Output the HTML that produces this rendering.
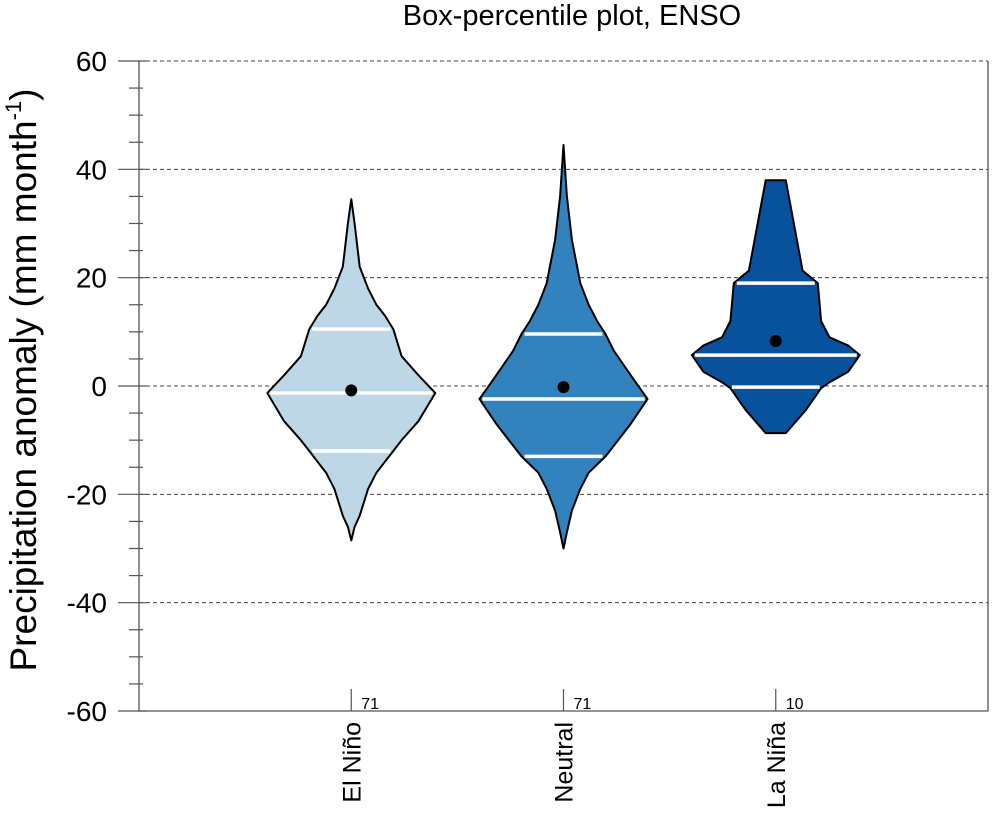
<!DOCTYPE html>
<html><head><meta charset="utf-8"><style>
body{margin:0;background:#fff;}
svg text{font-family:"Liberation Sans",sans-serif;fill:#000;}
</style></head><body>
<svg id="chart" width="995" height="823" xmlns="http://www.w3.org/2000/svg">
<text x="572" y="25" font-size="29" text-anchor="middle">Box-percentile plot, ENSO</text>
<g id="axes"></g>
<g id="marks"></g>
</svg>
<script>
const categories = ["El Niño", "Neutral", "La Niña"];
const counts = ["71", "71", "10"];
const colors = ["#bdd7e7", "#3182bd", "#08519c"];
const yTicks = [-60, -40, -20, 0, 20, 40, 60];
const pct0 = [0,0.02,0.05,0.1,0.15,0.2,0.25,0.3,0.4,0.5,0.6,0.7,0.75,0.8,0.85,0.9,0.95,0.98,1];
const vals0 = [-28.5,-26,-24,-19,-16,-14,-12,-10,-6.5,-1.3,2,5.5,10.5,13,15,18,22,30,34.5];
const pct1 = [0,0.02,0.05,0.1,0.15,0.2,0.25,0.3,0.4,0.5,0.6,0.7,0.75,0.8,0.85,0.9,0.95,0.98,1];
const vals1 = [-30,-27,-23,-19,-16,-14.5,-13,-11,-7,-2.4,2,6.5,9.6,12,15,19,27,35,44.5];
const pct2 = [0.06,0.06,0.18,0.27,0.32,0.43,0.5,0.57,0.68,0.73,0.75,0.84,0.94,0.94];
const vals2 = [-8.7,-8.7,-4.4,-0.4,0.7,2.6,5.7,7.5,9,12,19,21.3,38,38];
const quartiles = [[-12,-1.3,10.5],[-13,-2.4,9.6],[-0.2,5.7,19]];
const means = [-0.8,-0.2,8.3];

const NS="http://www.w3.org/2000/svg";
const L=139,R=988,T=61,B=711;
const y=v=>T+(60-v)*(B-T)/120;
const x=i=>L+(i+1)*(R-L)/4;
const MAXH=84;
const hw=p=>MAXH*2*Math.min(p,1-p);
function mk(tag,attrs,parent){const e=document.createElementNS(NS,tag);for(const k in attrs)e.setAttribute(k,attrs[k]);parent.appendChild(e);return e;}
const ax=document.getElementById('axes'), mg=document.getElementById('marks');
yTicks.forEach(t=>{
  if(t===-60) return;
  const g=mk('line',{x1:L,x2:R,y1:y(t),y2:y(t),stroke:'#444','stroke-width':1,'stroke-dasharray':'4,3'},ax);
  
  
});
const frame=mk('path',{d:`M${L},${T} L${L},${B} L${R},${B} L${R},${T}`,fill:'none',stroke:'#555','stroke-width':1.3},ax);


for(let v=-60;v<=60;v+=5){
  const major=v%20===0;
  const tk=mk('line',{x1:major?118:129,x2:major?147:143,y1:y(v),y2:y(v),stroke:'#555','stroke-width':1.2},ax);
  
  
}
yTicks.forEach(t=>{
  const tx=mk('text',{x:107,y:y(t)+10,'font-size':28,'text-anchor':'end'},ax);
  tx.textContent=t;
  
  
});
const yt=mk('text',{transform:'translate(36,380) rotate(-90)','font-size':37,'text-anchor':'middle'},ax);
yt.innerHTML='Precipitation anomaly (mm month<tspan font-size="22" dy="-15">-1</tspan><tspan dy="15">)</tspan>';


const P=[pct0,pct1,pct2], V=[vals0,vals1,vals2];
function widthAt(i,v){const p=P[i],vs=V[i];for(let k=0;k<vs.length-1;k++){if(v>=vs[k]&&v<=vs[k+1]){const f=vs[k+1]===vs[k]?0:(v-vs[k])/(vs[k+1]-vs[k]);return hw(p[k]+f*(p[k+1]-p[k]));}}return 0;}
categories.forEach((c,i)=>{
  const cx=x(i);
  const p=P[i],vs=V[i];
  let right=p.map((pp,k)=>[cx+hw(pp),y(vs[k])]);
  let left=right.slice().reverse().map(([px,py])=>[2*cx-px,py]);
  const pts=right.concat(left).map(a=>a[0].toFixed(1)+','+a[1].toFixed(1)).join(' ');
  const poly=mk('polygon',{points:pts,fill:colors[i],stroke:'#000','stroke-width':2,'stroke-linejoin':'round'},mg);
  
  
  quartiles[i].forEach(q=>{
    const w=widthAt(i,q)-3;
    const ln=mk('line',{x1:cx-w,x2:cx+w,y1:y(q),y2:y(q),stroke:'#fff','stroke-width':3.5},mg);
    
    
  });
  const dot=mk('circle',{cx:cx,cy:y(means[i]),r:6,fill:'#000'},mg);
  
  
  const tk=mk('line',{x1:cx,x2:cx,y1:B,y2:B-22,stroke:'#555','stroke-width':1.2},ax);
  
  
  const ct=mk('text',{x:cx+10,y:B-2,'font-size':16},ax);
  ct.textContent=counts[i];
  
  
  const xl=mk('text',{transform:`translate(${cx+9},722) rotate(-90)`,'font-size':25,'text-anchor':'end'},ax);
  xl.textContent=c;
  
  
});
</script>
</body></html>
